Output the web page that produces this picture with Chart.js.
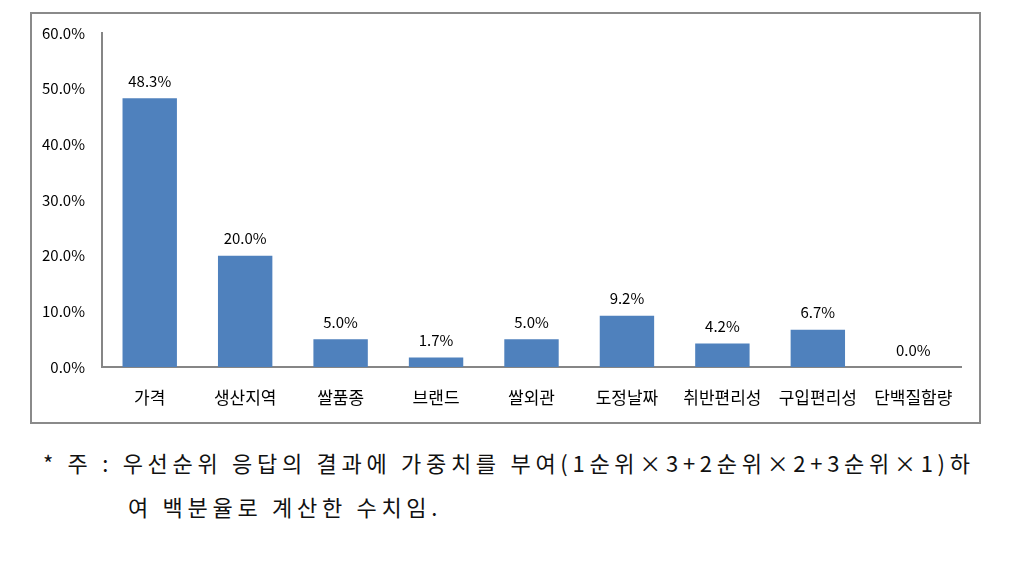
<!DOCTYPE html>
<html>
<head>
<meta charset="utf-8">
<script src="https://cdn.jsdelivr.net/npm/chart.js@4.4.0/dist/chart.umd.min.js"></script>
<style>
    html, body { margin: 0; padding: 0; background: #fff; }
    body { width: 1033px; height: 564px; position: relative; overflow: hidden; }
    .box {
        position: absolute; left: 30px; top: 12px; width: 951px; height: 412px;
        border: 2px solid #8a8a8a; box-sizing: border-box;
    }
    .box canvas { display: block; }
    .note {
        position: absolute; font-family: "Noto Sans CJK KR", sans-serif;
        font-size: 22px; color: #111; white-space: nowrap; line-height: 1;
    }
</style>
</head>
<body>
<div class="box"><canvas id="rankChart" width="947" height="408"></canvas></div>
<div class="note" id="note1">* 주 : 우선순위 응답의 결과에 가중치를 부여(1순위×3+2순위×2+3순위×1)하</div>
<div class="note" id="note2">여 백분율로 계산한 수치임.</div>

<script>
const categories = ['가격', '생산지역', '쌀품종', '브랜드', '쌀외관', '도정날짜', '취반편리성', '구입편리성', '단백질함량'];
const shares = [48.3, 20.0, 5.0, 1.7, 5.0, 9.2, 4.2, 6.7, 0.0];
const yTicks = [0, 10, 20, 30, 40, 50, 60];

const fontFamily = "'Malgun Gothic', 'Noto Sans CJK KR', 'Noto Sans', sans-serif";

// value labels above each bar
const valueLabels = {
    id: 'valueLabels',
    afterDatasetsDraw(chart) {
        const ctx = chart.ctx;
        const meta = chart.getDatasetMeta(0);
        ctx.save();
        ctx.font = '15px ' + fontFamily;
        ctx.fillStyle = '#000';
        ctx.textAlign = 'center';
        ctx.textBaseline = 'middle';
        meta.data.forEach((bar, i) => {
            ctx.fillText(shares[i].toFixed(1) + '%', bar.x, bar.y - 17);
        });
        ctx.restore();
    }
};

new Chart(document.getElementById('rankChart'), {
    type: 'bar',
    data: {
        labels: categories,
        datasets: [{
            data: shares,
            backgroundColor: '#4f81bd',
            borderWidth: 0,
            categoryPercentage: 1,
            barPercentage: 0.57
        }]
    },
    options: {
        responsive: false,
        animation: false,
        layout: { padding: { top: 19, right: 18, bottom: 0, left: 0 } },
        plugins: { legend: { display: false }, tooltip: { enabled: false } },
        scales: {
            y: {
                min: 0,
                max: 60,
                afterBuildTicks: scale => { scale.ticks = yTicks.map(v => ({ value: v })); },
                afterFit: scale => {
                    scale.width = 70;
                    // the tick padding should not push the plot area down
                    scale.paddingTop = 0;
                    scale.paddingBottom = 0;
                },
                grid: { display: false, drawTicks: false },
                border: { color: '#868686', width: 2 },
                ticks: {
                    padding: 17,
                    color: '#000',
                    font: { size: 15, family: fontFamily },
                    callback: v => v.toFixed(1) + '%'
                }
            },
            x: {
                afterFit: scale => { scale.height = 55; },
                grid: { display: false, drawTicks: false },
                border: { color: '#868686', width: 2 },
                ticks: {
                    padding: 20,
                    color: '#000',
                    maxRotation: 0,
                    autoSkip: false,
                    font: { size: 17, family: fontFamily }
                }
            }
        }
    },
    plugins: [valueLabels]
});

// footnote: spread line 1 to the width of the reference, reuse spacing on line 2
const note1 = document.getElementById('note1');
const note2 = document.getElementById('note2');
note1.style.left = '43px';
note1.style.top = '451px';
note2.style.left = '128px';
note2.style.top = '495px';
const chars = note1.textContent.length;
const spacing = (927 - note1.getBoundingClientRect().width) / (chars - 1);
note1.style.letterSpacing = spacing + 'px';
note2.style.letterSpacing = spacing + 'px';
</script>
</body>
</html>
